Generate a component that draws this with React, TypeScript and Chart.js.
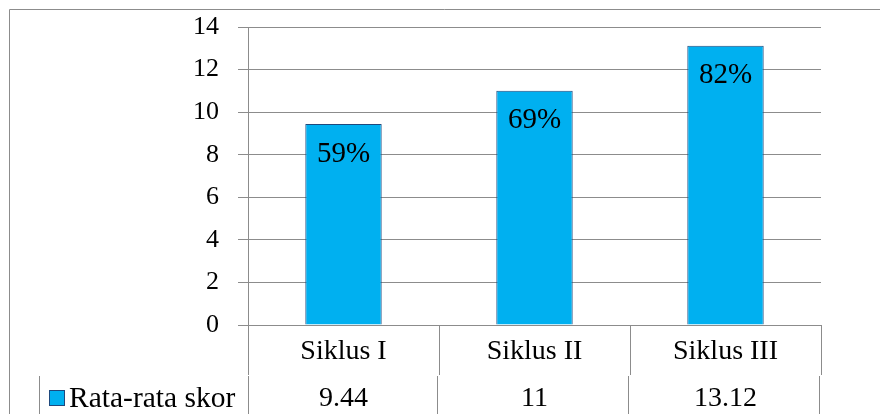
import { useEffect, useRef } from "react";
import { Chart, registerables } from "chart.js";

Chart.register(...registerables);

// Chart content
const categories = ["Siklus I", "Siklus II", "Siklus III"];
const scores = [9.44, 11, 13.12];
const percentLabels = ["59%", "69%", "82%"];
const seriesName = "Rata-rata skor";
const yMin = 0;
const yMax = 14;
const yStep = 2;

const SERIF = '"Liberation Serif", "Times New Roman", serif';
const FILL = "#00b0f0";
const EDGE = "#1f497d";
const LINE = "#8c8c8c";

// Percentage captions drawn inside the top of each bar
const barCaptions = {
  id: "barCaptions",
  afterDatasetsDraw(chart: any) {
    const { ctx } = chart;
    const meta = chart.getDatasetMeta(0);
    ctx.save();
    ctx.fillStyle = "#000";
    ctx.font = `29px ${SERIF}`;
    ctx.textAlign = "center";
    ctx.textBaseline = "middle";
    meta.data.forEach((bar: any, i: number) => {
      ctx.fillText(percentLabels[i], bar.x, bar.y + 30);
    });
    ctx.restore();
  },
};

// Outer frame plus the data table under the plot (categories, legend key, values)
const dataTable = {
  id: "dataTable",
  afterDraw(chart: any) {
    const { ctx, chartArea, scales } = chart;
    const xs = scales.x;
    const H = chart.height;
    const W = chart.width;
    const top = chartArea.bottom;
    const split = top + 50;

    const edges: number[] = [chartArea.left];
    for (let i = 0; i < categories.length - 1; i++) {
      edges.push(Math.round((xs.getPixelForValue(i) + xs.getPixelForValue(i + 1)) / 2));
    }
    edges.push(chartArea.right);

    ctx.save();
    ctx.strokeStyle = LINE;
    ctx.lineWidth = 1;

    // frame
    ctx.beginPath();
    ctx.moveTo(9.5, H);
    ctx.lineTo(9.5, 9.5);
    ctx.lineTo(W, 9.5);
    ctx.stroke();

    // category row dividers
    ctx.beginPath();
    edges.forEach((x) => {
      const px = Math.round(x) + 0.5;
      ctx.moveTo(px, top);
      ctx.lineTo(px, split);
    });
    // value row dividers
    [39, ...edges.map((x, i) => (i === 0 ? x : x - 2))].forEach((x) => {
      const px = Math.round(x) + 0.5;
      ctx.moveTo(px, split + 1);
      ctx.lineTo(px, H);
    });
    ctx.stroke();

    // texts
    ctx.fillStyle = "#000";
    ctx.font = `28px ${SERIF}`;
    ctx.textAlign = "center";
    ctx.textBaseline = "middle";
    categories.forEach((c, i) => {
      const cx = xs.getPixelForValue(i);
      ctx.fillText(c, cx, top + 27);
      ctx.fillText(String(scores[i]), cx, split + 24);
    });

    // legend key
    ctx.fillStyle = FILL;
    ctx.fillRect(49, 390, 15, 15);
    ctx.strokeStyle = EDGE;
    ctx.strokeRect(49.5, 390.5, 15, 15);
    ctx.fillStyle = "#000";
    ctx.textAlign = "left";
    ctx.font = `29.5px ${SERIF}`;
    ctx.fillText(seriesName, 69, split + 24);
    ctx.restore();
  },
};

export default function App() {
  const ref = useRef<HTMLCanvasElement>(null);

  useEffect(() => {
    if (!ref.current) return;
    const chart = new Chart(ref.current, {
      type: "bar",
      data: {
        labels: categories,
        datasets: [
          {
            label: seriesName,
            data: scores,
            backgroundColor: FILL,
            borderColor: EDGE,
            borderWidth: 1,
            categoryPercentage: 1,
            barPercentage: 0.4,
          },
        ],
      },
      options: {
        animation: false,
        responsive: false,
        devicePixelRatio: 1,
        layout: { padding: { left: 0, top: 27, right: 59, bottom: 89 } },
        plugins: {
          legend: { display: false },
          tooltip: { enabled: false },
        },
        scales: {
          x: { display: false, offset: true },
          y: {
            min: yMin,
            max: yMax,
            ticks: {
              stepSize: yStep,
              padding: 19,
              color: "#000",
              font: { family: SERIF, size: 26 },
            },
            grid: { color: LINE, tickLength: 10, lineWidth: 1 },
            border: { color: LINE },
            afterFit(scale: any) {
              scale.width = 248;
              scale.paddingTop = 0;
              scale.paddingBottom = 0;
            },
          },
        },
      },
      plugins: [barCaptions, dataTable],
    });
    return () => chart.destroy();
  }, []);

  return (
    <div style={{ position: "fixed", left: 0, top: 0, width: 880, height: 414, background: "#fff" }}>
      <canvas ref={ref} width={880} height={414} />
    </div>
  );
}
